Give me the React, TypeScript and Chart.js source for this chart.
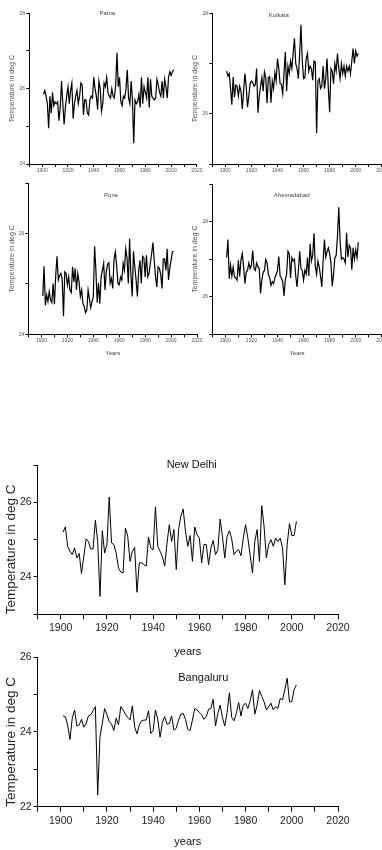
import React, { useEffect, useRef } from 'react';
import { Chart, registerables } from 'chart.js';

Chart.register(...registerables);

// ---------- data ----------
const FIRST_YEAR = 1901;
const X_MIN = 1890;
const X_MAX = 2020;
const X_TICK_LABELS = [1900, 1920, 1940, 1960, 1980, 2000, 2020];

const patna = [
  25.85, 25.95, 25.8, 25.6, 24.95, 25.8, 25.35, 25.9, 25.55, 25.65,
  25.6, 25.65, 25.15, 25.5, 26.2, 25.6, 25.05, 25.5, 25.8, 26.05,
  25.6, 25.95, 26.15, 25.2, 25.6, 25.8, 25.95, 25.6, 25.8, 26.15,
  26.1, 25.3, 25.7, 25.7, 25.35, 25.3, 25.7, 25.8, 25.75, 26.3,
  26.0, 25.8, 25.45, 26.2, 26.0, 25.4, 25.6, 26.15, 26.05, 26.3,
  25.9, 25.8, 25.75, 26.0, 25.8, 25.75, 26.1, 26.95, 26.05, 26.3,
  25.65, 25.55, 25.8, 25.75, 26.0, 26.5, 25.75, 25.6, 26.2, 25.7,
  24.55, 25.7, 25.6, 25.65, 25.85, 25.5, 26.3, 25.6, 26.05, 25.9,
  25.75, 26.3, 25.5, 26.25, 25.8, 25.75, 25.7, 25.75, 26.25, 26.1,
  25.9, 25.8, 26.2, 25.75, 26.25, 26.05, 25.75, 26.3, 26.45, 26.35,
  26.45, 26.5,
];

const kolkata = [
  26.85, 26.75, 26.8, 26.5, 26.18, 26.73, 26.33, 26.57, 26.55, 26.35,
  26.55, 26.45, 26.09, 26.45, 26.8, 26.55, 26.13, 26.35, 26.6, 26.65,
  26.62, 26.55, 26.58, 26.9, 26.02, 26.35, 26.55, 26.72, 26.45, 26.83,
  26.72, 26.21, 26.72, 26.74, 26.22, 26.65, 26.5, 26.82, 26.65, 27.1,
  26.9, 26.6, 26.58, 26.4, 26.8, 27.23, 26.45, 26.95, 26.8, 27.05,
  26.9, 27.2, 27.5, 27.0, 26.9, 26.7, 27.2, 27.77, 27.05, 26.7,
  26.72, 27.1, 27.2, 26.85, 26.95, 26.9, 26.67, 27.05, 27.03, 25.61,
  26.65, 26.7, 26.5, 26.55, 26.95, 26.5, 26.7, 27.1, 26.5, 26.03,
  26.9, 26.85, 26.6, 27.0, 26.85, 27.2, 26.9, 26.7, 27.0, 26.8,
  26.95, 26.75, 26.95, 26.85, 26.95, 26.8, 27.05, 27.3, 27.0, 27.25,
  27.15, 27.2,
];

const pune = [
  24.76, 25.35, 24.58, 24.78, 24.65, 24.85, 24.68, 24.63, 25.01, 24.6,
  25.17, 25.55, 25.08, 25.17, 25.21, 25.08, 24.36, 25.24, 25.21, 24.98,
  25.14, 24.88, 24.83, 25.34, 25.04, 25.31, 24.88, 25.21, 25.04, 24.75,
  24.88, 24.61, 24.55, 24.43, 24.48, 24.88, 24.71, 24.53, 24.65, 24.75,
  25.75, 25.27, 24.63, 25.02, 24.61, 25.14, 25.27, 25.41, 24.88, 25.24,
  25.39, 25.42, 25.01, 25.11, 24.91, 25.49, 25.64, 25.37, 25.01, 24.98,
  25.14, 25.08, 25.41, 25.27, 25.7, 25.52, 25.01, 25.9, 25.19, 24.75,
  25.65, 25.34, 25.08, 24.75, 25.27, 25.47, 25.01, 25.55, 25.52, 25.14,
  25.57, 25.14, 25.21, 25.41, 25.6, 25.82, 25.47, 25.14, 24.94, 25.34,
  25.31, 25.19, 24.91, 25.5, 25.5, 25.27, 25.7, 25.08, 25.31, 25.47,
  25.64, 25.65,
];

const ahmedabad = [
  27.04, 27.52, 26.48, 26.84, 26.55, 26.79, 26.53, 26.5, 26.44, 26.97,
  26.53, 26.99, 27.15, 26.8, 26.35, 26.65, 26.7, 26.9, 26.75, 26.85,
  27.23, 26.75, 26.7, 26.9, 26.8, 26.75, 26.09, 26.45, 26.65, 26.7,
  26.99, 26.9, 26.6, 26.5, 26.3, 26.4, 26.35, 26.5, 26.6, 26.7,
  27.07, 26.55, 26.5, 26.4, 26.02, 26.45, 26.6, 27.21, 27.15, 26.5,
  27.04, 26.95, 27.0, 26.55, 26.26, 26.7, 27.21, 26.75, 26.7, 26.44,
  26.7, 26.6, 27.04, 26.55, 27.41, 26.95, 27.1, 27.69, 26.8, 26.6,
  26.95, 26.8, 26.55, 26.26, 26.95, 27.52, 27.05, 27.2, 27.3, 27.15,
  26.9, 26.28, 26.6, 27.04, 27.1, 27.6, 28.38, 27.5, 27.0, 27.04,
  27.0, 26.9, 27.7, 27.05, 27.37, 27.3, 26.72, 27.3, 27.0, 27.25,
  27.04, 27.45,
];

const newDelhi = [
  25.2, 25.34, 24.82, 24.69, 24.6, 24.78, 24.51, 24.63, 24.09, 24.55,
  25.02, 24.95, 24.75, 24.75, 25.52, 24.95, 23.48, 25.24, 24.64, 24.87,
  26.14, 24.91, 24.87, 24.64, 24.24, 24.13, 24.11, 25.31, 25.09, 24.42,
  24.69, 24.79, 23.59, 24.38, 24.38, 24.33, 24.29, 25.07, 24.78, 24.73,
  25.88, 24.82, 24.69, 24.55, 24.29, 24.91, 25.4, 24.95, 25.27, 24.2,
  25.27, 25.63, 25.82, 25.22, 24.82, 25.11, 24.42, 25.34, 25.13, 25.04,
  24.38, 24.87, 24.87, 24.33, 24.78, 24.98, 24.6, 24.73, 25.55, 25.07,
  24.51, 25.09, 25.24, 25.02, 24.6, 24.69, 24.73, 24.57, 25.04, 25.4,
  25.04, 24.57, 24.11, 24.95, 25.27, 24.42, 25.91, 25.36, 24.51, 24.87,
  25.0, 24.82, 25.04, 24.95, 25.04, 24.78, 23.79, 24.87, 25.43, 25.11,
  25.11, 25.49,
];

const bangaluru = [
  24.43, 24.41, 24.19, 23.8, 24.37, 24.59, 24.16, 24.19, 24.34, 24.13,
  24.23, 24.43, 24.46, 24.57, 24.68, 22.31, 23.88, 24.23, 24.63, 24.46,
  24.28, 24.21, 24.04, 24.37, 24.19, 24.68, 24.59, 24.48, 24.39, 24.32,
  24.7, 24.14, 23.95, 24.19, 24.3, 24.32, 24.32, 24.57, 23.96, 24.04,
  24.59, 24.34, 23.86, 24.25, 24.41, 24.21, 24.23, 24.43, 24.05, 24.1,
  24.32, 24.48, 24.5, 24.34, 24.07, 24.04, 24.32, 24.63, 24.59, 24.52,
  24.46, 24.34, 24.41, 24.61, 24.63, 24.88, 24.16, 24.5, 24.72, 24.39,
  24.16, 24.52, 25.05, 24.39, 24.3, 24.5, 24.79, 24.43, 24.72, 24.77,
  24.63, 24.84, 25.13, 24.48, 24.72, 25.11, 24.95, 24.81, 24.59, 24.68,
  24.77, 24.59, 24.68, 24.63, 24.9, 24.86, 25.14, 25.44, 24.81, 24.81,
  25.14, 25.26,
];

const patnaYLabels = [24, 26, 28];
const kolkataYLabels = [26, 28];
const puneYLabels = [24, 26];
const ahmedabadYLabels = [26, 28];
const newDelhiYLabels = [24, 26];
const bangaluruYLabels = [22, 24, 26];

const Y_TITLE = 'Temperature in deg C';

// ---------- styling ----------
const REG_FONT = "'Liberation Sans', Arial, Helvetica, sans-serif";

type Box = { left: number; top: number; width: number; height: number };
type Area = { left: number; top: number; right: number; bottom: number };
type Spec = {
  key: string;
  name: string;
  values: number[];
  yMin: number;
  yMax: number;
  yLabels: number[];
  nameAt: [number, number];
  box: Box;
  area: Area;
  big: boolean;
  xTitle?: string;
};

const specs: Spec[] = [
  {
    key: 'patna', name: 'Patna', values: patna, yMin: 24, yMax: 28, yLabels: patnaYLabels,
    nameAt: [1950.5, 28], big: false,
    box: { left: 0, top: 0, width: 210, height: 180 },
    area: { left: 29.3, top: 13.3, right: 196.9, bottom: 164 },
  },
  {
    key: 'kolkata', name: 'Kolkata', values: kolkata, yMin: 25, yMax: 28, yLabels: kolkataYLabels,
    nameAt: [1941, 27.95], big: false,
    box: { left: 183, top: 0, width: 220, height: 180 },
    area: { left: 29.3, top: 13.3, right: 198.8, bottom: 164 },
  },
  {
    key: 'pune', name: 'Pune', values: pune, yMin: 24, yMax: 27, yLabels: puneYLabels,
    nameAt: [1953.7, 26.77], big: false, xTitle: 'Years',
    box: { left: 0, top: 170, width: 210, height: 190 },
    area: { left: 28.5, top: 13.3, right: 197, bottom: 164.3 },
  },
  {
    key: 'ahmedabad', name: 'Ahemadabad', values: ahmedabad, yMin: 25, yMax: 29, yLabels: ahmedabadYLabels,
    nameAt: [1950.9, 28.71], big: false, xTitle: 'Years',
    box: { left: 183, top: 170, width: 220, height: 190 },
    area: { left: 29.3, top: 14, right: 198.8, bottom: 164.3 },
  },
  {
    key: 'newdelhi', name: 'New Delhi', values: newDelhi, yMin: 23, yMax: 27, yLabels: newDelhiYLabels,
    nameAt: [1956.7, 27], big: true, xTitle: 'years',
    box: { left: 0, top: 450, width: 382, height: 212 },
    area: { left: 37.6, top: 15, right: 338, bottom: 164.3 },
  },
  {
    key: 'bangaluru', name: 'Bangaluru', values: bangaluru, yMin: 22, yMax: 26, yLabels: bangaluruYLabels,
    nameAt: [1961.7, 25.44], big: true, xTitle: 'years',
    box: { left: 0, top: 645, width: 382, height: 207 },
    area: { left: 37.6, top: 12.3, right: 338, bottom: 161.7 },
  },
];

const nameLabel = {
  id: 'nameLabel',
  afterDatasetsDraw(chart: any, _args: any, opts: any) {
    if (!opts || !opts.text) return;
    const { ctx, scales } = chart;
    const px = scales.x.getPixelForValue(opts.at[0]);
    const py = scales.y.getPixelForValue(opts.at[1]);
    ctx.save();
    ctx.font = opts.font;
    ctx.fillStyle = opts.color;
    ctx.textAlign = 'center';
    ctx.textBaseline = 'middle';
    ctx.fillText(opts.text, px, py);
    ctx.restore();
  },
};

function buildConfig(s: Spec): any {
  const big = s.big;
  const years = s.values.map((_, i) => FIRST_YEAR + i);
  const xScaleHeight = s.box.height - s.area.bottom;
  const yScaleWidth = s.area.left;
  const tickColor = big ? '#222' : '#555';
  const tickFont = big ? { family: REG_FONT, size: 10.5 } : { family: REG_FONT, size: 5 };
  return {
    type: 'line',
    data: {
      datasets: [
        {
          label: s.name,
          data: years.map((x, i) => ({ x, y: s.values[i] })),
          borderColor: '#000',
          borderWidth: big ? 1 : 1.2,
          pointRadius: 0,
          tension: 0,
          fill: false,
        },
      ],
    },
    options: {
      responsive: false,
      animation: false,
      events: [],
      layout: {
        padding: { left: 0, top: s.area.top, right: s.box.width - s.area.right, bottom: 0 },
      },
      plugins: {
        legend: { display: false },
        tooltip: { enabled: false },
        title: { display: false },
        nameLabel: {
          text: s.name,
          at: s.nameAt,
          font: big ? `11px ${REG_FONT}` : `6px ${REG_FONT}`,
          color: big ? '#111' : '#444',
        },
      },
      scales: {
        x: {
          type: 'linear',
          position: 'bottom',
          min: X_MIN,
          max: X_MAX,
          afterFit: (sc: any) => {
            sc.height = xScaleHeight;
          },
          border: { display: true, color: '#000', width: 1 },
          grid: {
            display: true,
            drawOnChartArea: false,
            drawTicks: true,
            tickLength: big ? 5 : 3,
            color: '#000',
          },
          ticks: {
            stepSize: 10,
            autoSkip: false,
            maxRotation: 0,
            minRotation: 0,
            padding: big ? 3 : 0.3,
            color: tickColor,
            font: tickFont,
            callback: (v: number) => (X_TICK_LABELS.includes(v) ? String(v) : ''),
          },
          title: {
            display: !!s.xTitle,
            text: s.xTitle || '',
            color: big ? '#111' : '#444',
            font: big ? { family: REG_FONT, size: 11 } : { family: REG_FONT, size: 6 },
            padding: { top: 0, bottom: big ? 3.5 : 3.3 },
          },
        },
        y: {
          type: 'linear',
          position: 'left',
          min: s.yMin,
          max: s.yMax,
          afterFit: (sc: any) => {
            sc.width = yScaleWidth;
          },
          border: { display: true, color: '#000', width: 1 },
          grid: {
            display: true,
            drawOnChartArea: false,
            drawTicks: true,
            tickLength: big ? 4 : 3,
            color: '#000',
          },
          ticks: {
            stepSize: 1,
            autoSkip: false,
            padding: big ? 2 : 1.3,
            color: tickColor,
            font: tickFont,
            callback: (v: number) => (s.yLabels.includes(v) ? String(v) : ''),
          },
          title: {
            display: true,
            text: Y_TITLE,
            align: big ? 'start' : 'center',
            color: big ? '#222' : '#555',
            font: big ? { family: REG_FONT, size: 13.5 } : { family: REG_FONT, size: 7 },
            padding: { top: big ? 2.9 : 7.8, bottom: 0 },
          },
        },
      },
    },
    plugins: [nameLabel],
  };
}

function ChartBox({ spec }: { spec: Spec }) {
  const ref = useRef<HTMLCanvasElement>(null);
  useEffect(() => {
    if (!ref.current) return;
    const chart = new Chart(ref.current, buildConfig(spec));
    return () => chart.destroy();
  }, [spec]);
  return (
    <canvas
      ref={ref}
      width={spec.box.width}
      height={spec.box.height}
      style={{
        position: 'absolute',
        left: spec.box.left,
        top: spec.box.top,
        width: spec.box.width,
        height: spec.box.height,
      }}
    />
  );
}

export default function App() {
  return (
    <div
      style={{
        position: 'absolute',
        left: 0,
        top: 0,
        width: 382,
        height: 850,
        overflow: 'hidden',
        background: '#fff',
      }}
    >
      {specs.map((s) => (
        <ChartBox key={s.key} spec={s} />
      ))}
    </div>
  );
}
